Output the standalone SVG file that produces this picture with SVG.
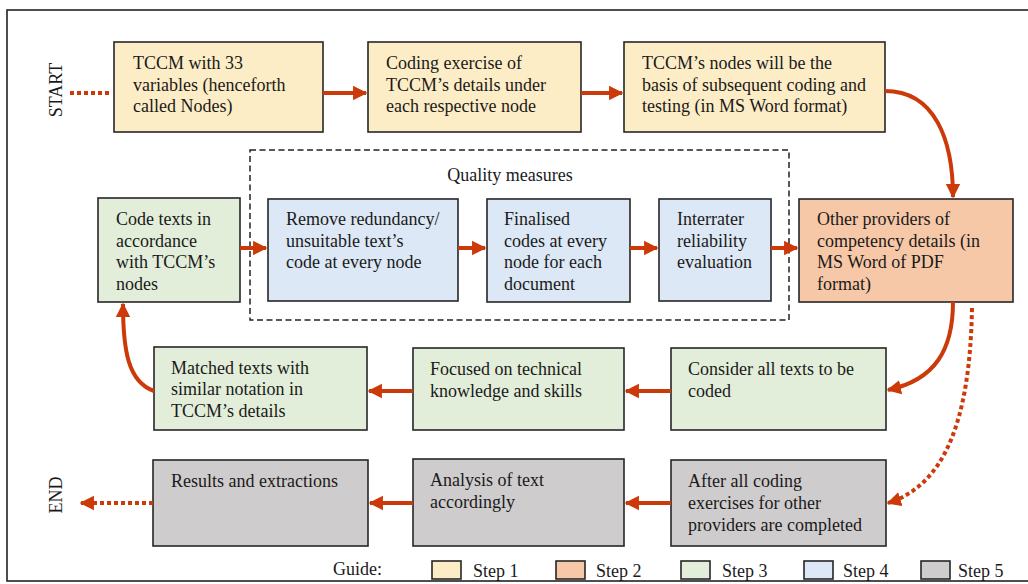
<svg xmlns="http://www.w3.org/2000/svg" width="1028" height="584" viewBox="0 0 1028 584">
<defs>
<style>
text{font-family:"Liberation Serif","Times New Roman",serif;font-size:18px;fill:#1a1a1a}
.box{stroke:#262626;stroke-width:1.6}
.s1{fill:#FDEDC6}.s2{fill:#F7C8A7}.s3{fill:#E2EED9}.s4{fill:#DCE8F5}.s5{fill:#CFCCCD}
.ar{fill:none;stroke:#CC3A0A;stroke-width:4}
.dot{fill:none;stroke:#CC3A0A;stroke-width:4;stroke-dasharray:4 3}
</style>
<marker id="ah" viewBox="0 0 10 10" refX="9" refY="5" markerWidth="3.6" markerHeight="3.8" markerUnits="strokeWidth" orient="auto">
<path d="M0,0 L10,5 L0,10 z" fill="#CC3A0A"/>
</marker>
</defs>
<rect x="7" y="10" width="1040" height="571" fill="#fff" stroke="#222" stroke-width="1.6"/>
<text transform="translate(62,90) rotate(-90)" text-anchor="middle">START</text>
<text transform="translate(62,495) rotate(-90)" text-anchor="middle">END</text>
<g id="quality">
<rect x="250" y="150" width="539" height="170" fill="none" stroke="#222" stroke-width="1.5" stroke-dasharray="6 3.5"/>
<text x="510" y="181" text-anchor="middle">Quality measures</text>
</g>
<g id="n1"><rect class="box s1" x="114" y="42" width="209" height="90"/>
<text x="133" y="69">TCCM with 33</text><text x="133" y="91">variables (henceforth</text><text x="133" y="112">called Nodes)</text></g>
<g id="n2"><rect class="box s1" x="368" y="42" width="213" height="90"/>
<text x="386" y="69">Coding exercise of</text><text x="386" y="91">TCCM’s details under</text><text x="386" y="112">each respective node</text></g>
<g id="n3"><rect class="box s1" x="624" y="42" width="261" height="90"/>
<text x="642" y="69">TCCM’s nodes will be the</text><text x="642" y="91">basis of subsequent coding and</text><text x="642" y="112">testing (in MS Word format)</text></g>
<g id="n4"><rect class="box s3" x="98" y="198" width="142" height="104"/>
<text x="116" y="225">Code texts in</text><text x="116" y="247">accordance</text><text x="116" y="268">with TCCM’s</text><text x="116" y="290">nodes</text></g>
<g id="n5"><rect class="box s4" x="268" y="199" width="190" height="102"/>
<text x="286" y="225">Remove redundancy/</text><text x="286" y="247">unsuitable text’s</text><text x="286" y="268">code at every node</text></g>
<g id="n6"><rect class="box s4" x="487" y="199" width="143" height="103"/>
<text x="504" y="225">Finalised</text><text x="504" y="247">codes at every</text><text x="504" y="268">node for each</text><text x="504" y="290">document</text></g>
<g id="n7"><rect class="box s4" x="659" y="199" width="112" height="102"/>
<text x="677" y="225">Interrater</text><text x="677" y="247">reliability</text><text x="677" y="268">evaluation</text></g>
<g id="n8"><rect class="box s2" x="799" y="199" width="214" height="103"/>
<text x="817" y="225">Other providers of</text><text x="817" y="247">competency details (in</text><text x="817" y="268">MS Word of PDF</text><text x="817" y="290">format)</text></g>
<g id="n9"><rect class="box s3" x="154" y="347" width="213" height="83"/>
<text x="171" y="374">Matched texts with</text><text x="171" y="395">similar notation in</text><text x="171" y="417">TCCM’s details</text></g>
<g id="n10"><rect class="box s3" x="413" y="348" width="211" height="82"/>
<text x="430" y="375">Focused on technical</text><text x="430" y="397">knowledge and skills</text></g>
<g id="n11"><rect class="box s3" x="671" y="348" width="215" height="82"/>
<text x="688" y="375">Consider all texts to be</text><text x="688" y="397">coded</text></g>
<g id="n12"><rect class="box s5" x="153" y="460" width="215" height="86"/>
<text x="171" y="487">Results and extractions</text></g>
<g id="n13"><rect class="box s5" x="413" y="459" width="211" height="87"/>
<text x="430" y="486">Analysis of text</text><text x="430" y="508">accordingly</text></g>
<g id="n14"><rect class="box s5" x="671" y="460" width="215" height="86"/>
<text x="688" y="487">After all coding</text><text x="688" y="509">exercises for other</text><text x="688" y="531">providers are completed</text></g>
<g id="connectors">
<path class="dot" d="M70,93 H110"/>
<path class="ar" marker-end="url(#ah)" d="M323,93 H366"/>
<path class="ar" marker-end="url(#ah)" d="M581,93 H622"/>
<path class="ar" marker-end="url(#ah)" d="M885,91 C935,91 953,140 953,197"/>
<path class="ar" marker-end="url(#ah)" d="M240,248 H266"/>
<path class="ar" marker-end="url(#ah)" d="M458,248 H485"/>
<path class="ar" marker-end="url(#ah)" d="M630,248 H657"/>
<path class="ar" marker-end="url(#ah)" d="M771,248 H797"/>
<path class="ar" marker-end="url(#ah)" d="M953,302 C953,350 935,380 888,390"/>
<path class="ar" marker-end="url(#ah)" d="M671,391 H626"/>
<path class="ar" marker-end="url(#ah)" d="M413,391 H369"/>
<path class="ar" marker-end="url(#ah)" d="M154,391 C128,382 123,350 123,304"/>
<path class="dot" marker-end="url(#ah)" d="M972,308 C970,420 945,485 888,503"/>
<path class="ar" marker-end="url(#ah)" d="M671,503 H626"/>
<path class="ar" marker-end="url(#ah)" d="M413,503 H370"/>
<path class="dot" marker-end="url(#ah)" d="M153,503 H81"/>
</g>
<g id="legend">
<text x="333" y="575">Guide:</text>
<rect class="box s1" x="432" y="561" width="29" height="18"/><text x="473" y="577">Step 1</text>
<rect class="box s2" x="556" y="561" width="29" height="18"/><text x="596" y="577">Step 2</text>
<rect class="box s3" x="681" y="561" width="29" height="18"/><text x="722" y="577">Step 3</text>
<rect class="box s4" x="804" y="561" width="29" height="18"/><text x="843" y="577">Step 4</text>
<rect class="box s5" x="921" y="561" width="29" height="18"/><text x="958" y="577">Step 5</text>
</g>
</svg>
